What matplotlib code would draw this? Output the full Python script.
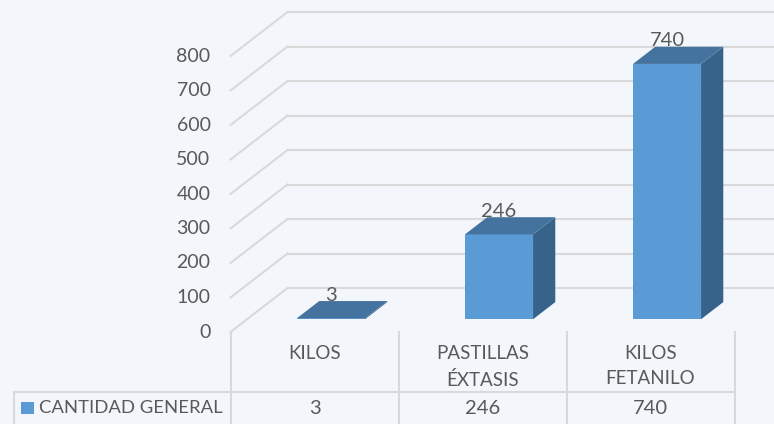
import matplotlib
matplotlib.use('Agg')
import matplotlib.pyplot as plt
from matplotlib.patches import Polygon, Rectangle

plt.rcParams['font.family'] = ['Lato', 'DejaVu Sans']

# Data
categories = ['KILOS', 'PASTILLAS\nÉXTASIS', 'KILOS\nFETANILO']
values = [3, 246, 740]
y_ticks = [0, 100, 200, 300, 400, 500, 600, 700, 800]
series_name = 'CANTIDAD GENERAL'

bg = '#F3F6FB'
grid_c = '#D9D9D9'
text_c = '#595959'
front_c = '#5B9BD5'
top_c = '#44739F'
side_c = '#37638A'

W, H = 774, 424
# pixel layout of the front plane
x0_px, cat_px = 230.5, 168
y0_px, val_px = 332, 0.345
depth_x_px, depth_y_px = 57, 44
bar_w = 0.405

fig = plt.figure(figsize=(W / 100, H / 100), dpi=100, facecolor=bg)
ax = fig.add_axes([0, 0, 1, 1])
ax.set_xlim(-x0_px / cat_px, (W - x0_px) / cat_px)
ax.set_ylim(-(H - y0_px) / val_px, y0_px / val_px)
ax.axis('off')

dx = depth_x_px / cat_px
dy = depth_y_px / val_px


def proj(x, v, d):
    # oblique projection, d is depth 0 (front) to 1 (back wall)
    return (x + d * dx, v + d * dy)


# walls
for t in y_ticks:
    p1 = proj(0, t, 0)
    p2 = proj(0, t, 1)
    ax.plot([p1[0], p2[0]], [p1[1], p2[1]], color=grid_c, lw=1.5, zorder=1)
    ax.plot([p2[0], ax.get_xlim()[1]], [p2[1], p2[1]], color=grid_c, lw=1.5, zorder=1)
    ax.annotate(str(t), (0, t), xytext=(-20, 0), textcoords='offset pixels',
                ha='right', va='center', fontsize=14, color=text_c)

# bars
d_front, d_back = 0.29, 0.68
for i, v in enumerate(values):
    c = i + 0.5
    l, r = c - bar_w / 2, c + bar_w / 2
    front = [proj(l, 0, d_front), proj(r, 0, d_front), proj(r, v, d_front), proj(l, v, d_front)]
    top = [proj(l, v, d_front), proj(r, v, d_front), proj(r, v, d_back), proj(l, v, d_back)]
    side = [proj(r, 0, d_front), proj(r, 0, d_back), proj(r, v, d_back), proj(r, v, d_front)]
    ax.add_patch(Polygon(side, closed=True, fc=side_c, ec='none', zorder=3))
    ax.add_patch(Polygon(front, closed=True, fc=front_c, ec='none', zorder=3))
    ax.add_patch(Polygon(top, closed=True, fc=top_c, ec='none', zorder=3))
    ax.annotate(str(v), proj(c, v, d_front), xytext=(0, 23), textcoords='offset pixels',
                ha='center', va='center', fontsize=14.5, color=text_c, zorder=5)

# data table under the plot
tr = ax.get_ylim()[0]
table_y = (y0_px - 392) * 1 / val_px
for i in range(len(categories) + 1):
    ax.plot([i, i], [0, tr], color=grid_c, lw=1.5, zorder=1)
ax.plot([(14 - x0_px) / cat_px, len(categories)], [table_y, table_y], color=grid_c, lw=1.5, zorder=1)
ax.plot([(14 - x0_px) / cat_px] * 2, [table_y, tr], color=grid_c, lw=1.5, zorder=1)

for i, (cat, v) in enumerate(zip(categories, values)):
    ax.text(i + 0.5, (y0_px - 345) / val_px, cat, ha='center', va='top', fontsize=13.5,
            color=text_c, linespacing=1.6)
    ax.text(i + 0.5, (y0_px - 408) / val_px, str(v), ha='center', va='center', fontsize=14.5,
            color=text_c)

ax.add_patch(Rectangle(((21 - x0_px) / cat_px, (y0_px - 414) / val_px), 13 / cat_px, 12 / val_px,
                       fc=front_c, ec='none', zorder=3))
ax.text((39 - x0_px) / cat_px, (y0_px - 408) / val_px, series_name, ha='left', va='center',
        fontsize=13.3, color=text_c)

fig.savefig('out.png', dpi=100, facecolor=bg)
